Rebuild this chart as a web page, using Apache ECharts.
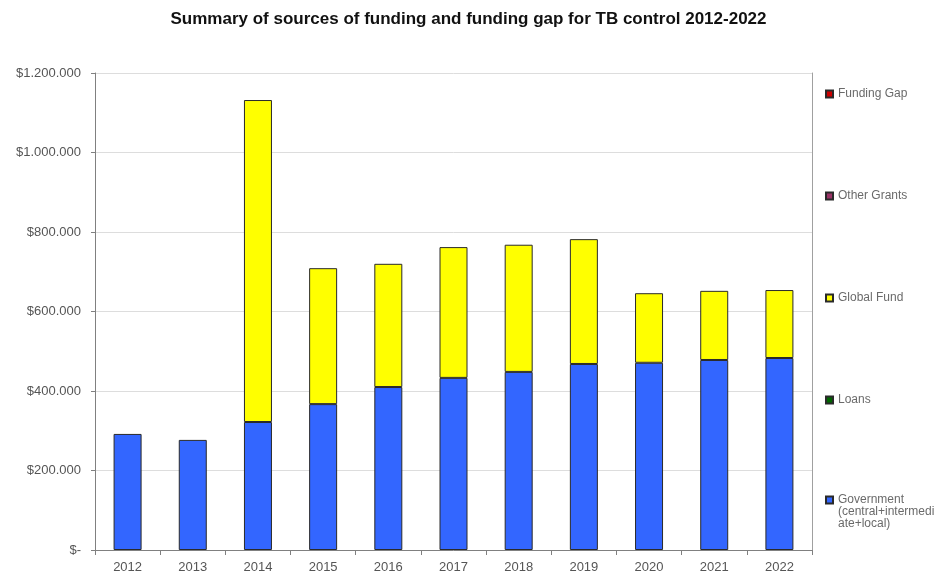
<!DOCTYPE html>
<html>
<head>
<meta charset="utf-8">
<script src="https://cdn.jsdelivr.net/npm/echarts@6/dist/echarts.min.js"></script>
<style>html,body{margin:0;padding:0;background:#fff;}#c{width:937px;height:577px;}</style>
</head>
<body>
<div id="c"></div>
<script>
const years = ['2012','2013','2014','2015','2016','2017','2018','2019','2020','2021','2022'];
const government = [292000, 277000, 322000, 367000, 410000, 433000, 448000, 468000, 471000, 478000, 483000];
const loans = [null, null, null, null, null, null, null, null, null, null, null];
const globalFund = [null, null, 810000, 342000, 310000, 329000, 320000, 314000, 175000, 174000, 171000];
const otherGrants = [null, null, null, null, null, null, null, null, null, null, null];
const fundingGap = [null, null, null, null, null, null, null, null, null, null, null];
const yTicks = [0, 200000, 400000, 600000, 800000, 1000000, 1200000];

const names = ['Government (central+intermediate+local)', 'Loans', 'Global Fund', 'Other Grants', 'Funding Gap'];
const colors = ['#3366ff', '#006600', '#ffff00', '#993366', '#cc0000'];
const dataSets = [government, loans, globalFund, otherGrants, fundingGap];

function fmt(v) {
  if (v === 0) return '$-';
  return '$' + String(v).replace(/\B(?=(\d{3})+(?!\d))/g, '.');
}

const series = names.map((n, i) => ({
  name: n,
  type: 'bar',
  stack: 'total',
  barWidth: 28,
  data: dataSets[i],
  itemStyle: { color: colors[i], borderColor: '#2a2a2a', borderWidth: 1 },
  emphasis: { disabled: true }
}));

const legendCenters = [500, 399, 297, 195, 93];
const legends = names.map((n, i) => {
  const isGov = i === 0;
  return {
    data: [n],
    orient: 'vertical',
    left: 820,
    top: isGov ? legendCenters[i] - 35 : legendCenters[i] - 10,
    itemWidth: 7,
    itemHeight: 7,
    icon: 'rect',
    selectedMode: false,
    formatter: isGov ? '\n\nGovernment\n(central+intermedi\nate+local)' : '{name}',
    textStyle: { fontFamily: 'Liberation Sans', fontSize: 12, color: '#6a6a6a', lineHeight: 12 }
  };
});

const chart = echarts.init(document.getElementById('c'), null, { renderer: 'canvas' });
chart.setOption({
  animation: false,
  backgroundColor: '#fff',
  title: {
    text: 'Summary of sources of funding and funding gap for TB control 2012-2022',
    left: 'center',
    top: 6,
    textStyle: { fontFamily: 'Liberation Sans', fontSize: 17, fontWeight: 'bold', color: '#111' }
  },
  legend: legends,
  grid: { left: 95, right: 125, top: 73, bottom: 27, containLabel: false },
  xAxis: {
    type: 'category',
    data: years,
    boundaryGap: true,
    axisLine: { lineStyle: { color: '#808080', width: 1 } },
    axisTick: { show: true, length: 5, lineStyle: { color: '#808080' } },
    axisLabel: { fontFamily: 'Liberation Sans', fontSize: 13, color: '#555', margin: 11 }
  },
  yAxis: [{
    type: 'value',
    min: yTicks[0],
    max: yTicks[yTicks.length - 1],
    interval: yTicks[1] - yTicks[0],
    axisLine: { show: true, lineStyle: { color: '#808080', width: 1 } },
    axisTick: { show: true, length: 4, lineStyle: { color: '#808080' } },
    splitLine: { lineStyle: { color: '#dddddd' } },
    axisLabel: { fontFamily: 'Liberation Sans', fontSize: 13, color: '#555', margin: 14, formatter: fmt }
  }, {
    type: 'value',
    position: 'right',
    min: yTicks[0],
    max: yTicks[yTicks.length - 1],
    interval: yTicks[1] - yTicks[0],
    axisLine: { show: true, lineStyle: { color: '#a0a0a0', width: 1 } },
    axisTick: { show: false },
    splitLine: { show: false },
    axisLabel: { show: false }
  }],
  series: series
});
</script>
</body>
</html>
